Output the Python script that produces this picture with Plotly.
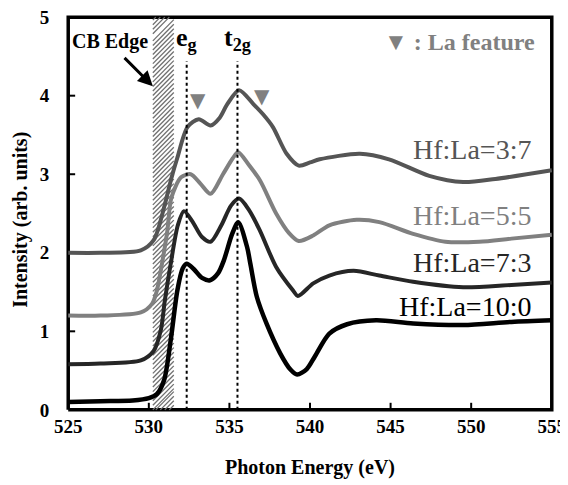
import numpy as np
import plotly.graph_objects as go

# ---------------- data ----------------
x_100 = [525, 527, 529, 530, 530.5, 530.95, 531.36, 531.77, 532.1, 532.35, 532.8, 533.3, 533.8,
         534.3, 534.65, 535.17, 535.55, 536.1, 536.3, 536.7, 537.3, 538.15, 538.8, 539.2, 539.8,
         540.3, 541.2, 542.3, 544.1, 546.4, 549.5, 552.5, 555]
y_100 = [0.10, 0.11, 0.12, 0.15, 0.20, 0.38, 0.89, 1.52, 1.80, 1.86, 1.79, 1.68, 1.65,
         1.74, 1.90, 2.24, 2.39, 2.07, 1.86, 1.44, 1.10, 0.72, 0.51, 0.45, 0.52,
         0.68, 0.97, 1.09, 1.14, 1.10, 1.08, 1.12, 1.14]

x_73 = [525, 527, 529.5, 530.3, 530.74, 531.0, 531.36, 531.8, 532.18, 532.7, 533.3, 533.83,
        534.5, 535.1, 535.6, 536.2, 536.9, 537.9, 538.95, 539.25, 540.2, 541.2, 542.7, 544.3,
        546.4, 549.5, 552.5, 555]
y_73 = [0.58, 0.59, 0.63, 0.75, 1.01, 1.40, 1.86, 2.35, 2.53, 2.40, 2.20, 2.14,
        2.35, 2.60, 2.69, 2.55, 2.28, 1.82, 1.52, 1.45, 1.61, 1.71, 1.77, 1.71,
        1.63, 1.56, 1.59, 1.62]

x_55 = [525, 527, 529.5, 530.2, 530.5, 530.85, 531.15, 531.4, 532.0, 532.6, 533.2, 533.83,
        534.6, 535.2, 535.54, 536.2, 536.9, 537.9, 538.7, 539.3, 540.2, 541.2, 542.9, 544.3,
        546.4, 548.4, 550.5, 552.5, 555]
y_55 = [1.20, 1.20, 1.24, 1.35, 1.52, 1.90, 2.28, 2.70, 2.96, 3.00, 2.88, 2.75,
        3.00, 3.20, 3.28, 3.12, 2.92, 2.50, 2.25, 2.15, 2.22, 2.35, 2.42, 2.39,
        2.24, 2.14, 2.14, 2.18, 2.23]

x_37 = [525, 527, 529.5, 530.3, 530.95, 531.4, 531.77, 532.4, 533.1, 533.83, 534.4, 534.86,
        535.6, 536.5, 537.1, 537.7, 538.55, 539.3, 540.0, 540.6, 543.1, 544.9, 547.4, 549.5,
        551.5, 555]
y_37 = [2.00, 2.00, 2.03, 2.16, 2.58, 2.95, 3.21, 3.60, 3.70, 3.62, 3.72, 3.89,
        4.07, 3.89, 3.76, 3.60, 3.26, 3.11, 3.15, 3.19, 3.26, 3.19, 2.98, 2.90,
        2.94, 3.05]

series_names = ["Hf:La=3:7", "Hf:La=5:5", "Hf:La=7:3", "Hf:La=10:0"]
label_y = [3.31, 2.48, 1.87, 1.31]

x_ticks = [525, 530, 535, 540, 545, 550, 555]
y_ticks = [0, 1, 2, 3, 4, 5]
x_frame = [525, 555]
y_frame = [0, 5]

peak_x = [532.35, 535.5]          # e_g, t_2g
peak_labels = ["<b>e<sub>g</sub></b>", "<b>t<sub>2g</sub></b>"]
la_x = [533.05, 537.0]
la_y = [3.95, 4.0]
cb_edge = [530.25, 531.55]

# ---------------- figure ----------------
fig = go.Figure()

# frame (box) first, then the inside tick marks on bottom and left
fig.add_trace(go.Scatter(
    x=[x_frame[0], x_frame[1], x_frame[1], x_frame[0], x_frame[0]],
    y=[y_frame[0], y_frame[0], y_frame[1], y_frame[1], y_frame[0]],
    mode="lines", line=dict(color="black", width=3.5),
    showlegend=False, hoverinfo="skip"))
xt_x, xt_y = [], []
for v in x_ticks[1:-1]:
    xt_x += [v, v, None]
    xt_y += [y_frame[0], y_frame[0] + 0.09, None]
fig.add_trace(go.Scatter(x=xt_x, y=xt_y, mode="lines", line=dict(color="black", width=2),
                         showlegend=False, hoverinfo="skip"))
yt_x, yt_y = [], []
for v in y_ticks[1:-1]:
    yt_x += [x_frame[0], x_frame[0] + 0.43, None]
    yt_y += [v, v, None]
fig.add_trace(go.Scatter(x=yt_x, y=yt_y, mode="lines", line=dict(color="black", width=2),
                         showlegend=False, hoverinfo="skip"))

# hatched CB edge band: thin diagonal lines across the band
hatch_rise = 0.27
hx, hy = [], []
for y0 in np.arange(y_frame[0], y_frame[1] - hatch_rise + 1e-9, 0.058):
    hx += [cb_edge[0], cb_edge[1], None]
    hy += [float(y0), float(y0) + hatch_rise, None]
# partial lines at bottom and top so the band is filled up to the frame
for y0 in np.arange(y_frame[0] - hatch_rise + 0.058, y_frame[0], 0.058):
    frac = (y_frame[0] - y0) / hatch_rise
    hx += [cb_edge[0] + frac * (cb_edge[1] - cb_edge[0]), cb_edge[1], None]
    hy += [y_frame[0], float(y0) + hatch_rise, None]
for y0 in np.arange(y_frame[1] - hatch_rise + 0.058, y_frame[1], 0.058):
    frac = (y_frame[1] - y0) / hatch_rise
    hx += [cb_edge[0], cb_edge[0] + frac * (cb_edge[1] - cb_edge[0]), None]
    hy += [float(y0), y_frame[1], None]
fig.add_trace(go.Scatter(x=hx, y=hy, mode="lines", line=dict(color="#707070", width=1.3),
                         hoverinfo="skip", showlegend=False))

colors = ["#555555", "#808080", "#262626", "#000000"]
widths = [4, 4, 4, 4.5]
data_x = [x_37, x_55, x_73, x_100]
data_y = [y_37, y_55, y_73, y_100]
for xs, ys, c, w, n in zip(data_x, data_y, colors, widths, series_names):
    fig.add_trace(go.Scatter(x=xs, y=ys, mode="lines", name=n,
                             line=dict(color=c, width=w, shape="spline", smoothing=0.8),
                             showlegend=False))

for px in peak_x:
    fig.add_trace(go.Scatter(x=[px, px], y=[0, 4.44], mode="lines",
                             line=dict(color="black", width=2, dash="dot"),
                             showlegend=False, hoverinfo="skip"))

serif = "Times New Roman"
annotations = []
for n, yy, c in zip(series_names, label_y, colors):
    annotations.append(dict(x=553.85, y=yy, xref="x", yref="y", text=n, showarrow=False,
                            xanchor="right", yanchor="middle",
                            font=dict(family=serif, size=28, color=c)))
for px, t in zip(peak_x, peak_labels):
    annotations.append(dict(x=px, y=4.72, xref="x", yref="y", text=t, showarrow=False,
                            xanchor="center", yanchor="middle",
                            font=dict(family=serif, size=26, color="black")))
for lx, ly in zip(la_x, la_y):
    annotations.append(dict(x=lx, y=ly, xref="x", yref="y", text="▼", showarrow=False,
                            xanchor="center", yanchor="middle",
                            font=dict(family="DejaVu Sans", size=20, color="#808080")))
annotations.append(dict(x=554.1, y=4.68, xref="x", yref="y", text="<b>▼ : La feature</b>",
                        showarrow=False, xanchor="right", yanchor="middle",
                        font=dict(family=serif, size=24, color="#808080")))
annotations.append(dict(x=527.6, y=4.69, xref="x", yref="y", text="<b>CB Edge</b>",
                        showarrow=False, xanchor="center", yanchor="middle",
                        font=dict(family=serif, size=20, color="black")))
annotations.append(dict(x=530.25, y=4.12, ax=528.4, ay=4.5, xref="x", yref="y",
                        axref="x", ayref="y", text="", showarrow=True,
                        arrowhead=2, arrowsize=1, arrowwidth=3, arrowcolor="black"))
annotations.append(dict(x=0.5, y=-0.1375, xref="paper", yref="paper",
                        text="<b>Photon Energy (eV)</b>", showarrow=False,
                        xanchor="center", yanchor="middle",
                        font=dict(family=serif, size=20, color="black")))
annotations.append(dict(x=-0.0924, y=0.4834, xref="paper", yref="paper",
                        text="<b>Intensity (arb. units)</b>", showarrow=False, textangle=-90,
                        xanchor="center", yanchor="middle",
                        font=dict(family=serif, size=20, color="black")))

tickfont = dict(family=serif, size=19, color="black")

fig.update_layout(
    width=560, height=477,
    margin=dict(l=57, r=13, t=6, b=72),
    paper_bgcolor="white", plot_bgcolor="white",
    font=dict(family=serif),
    xaxis=dict(range=[524.8, 555.2], tickvals=x_ticks,
               ticktext=[f"<b>{v}</b>" for v in x_ticks],
               ticks="", showline=False, showgrid=False, zeroline=False, tickfont=tickfont,
               ticklabeloverflow="allow", automargin=False),
    yaxis=dict(range=[-0.04, 5.04], tickvals=y_ticks,
               ticktext=[f"<b>{v}</b>" for v in y_ticks],
               ticks="outside", ticklen=11, tickcolor="rgba(0,0,0,0)",
               showline=False, showgrid=False, zeroline=False, tickfont=tickfont,
               ticklabeloverflow="allow", automargin=False),
    annotations=annotations,
    showlegend=False,
)

fig.write_html("out.html")
